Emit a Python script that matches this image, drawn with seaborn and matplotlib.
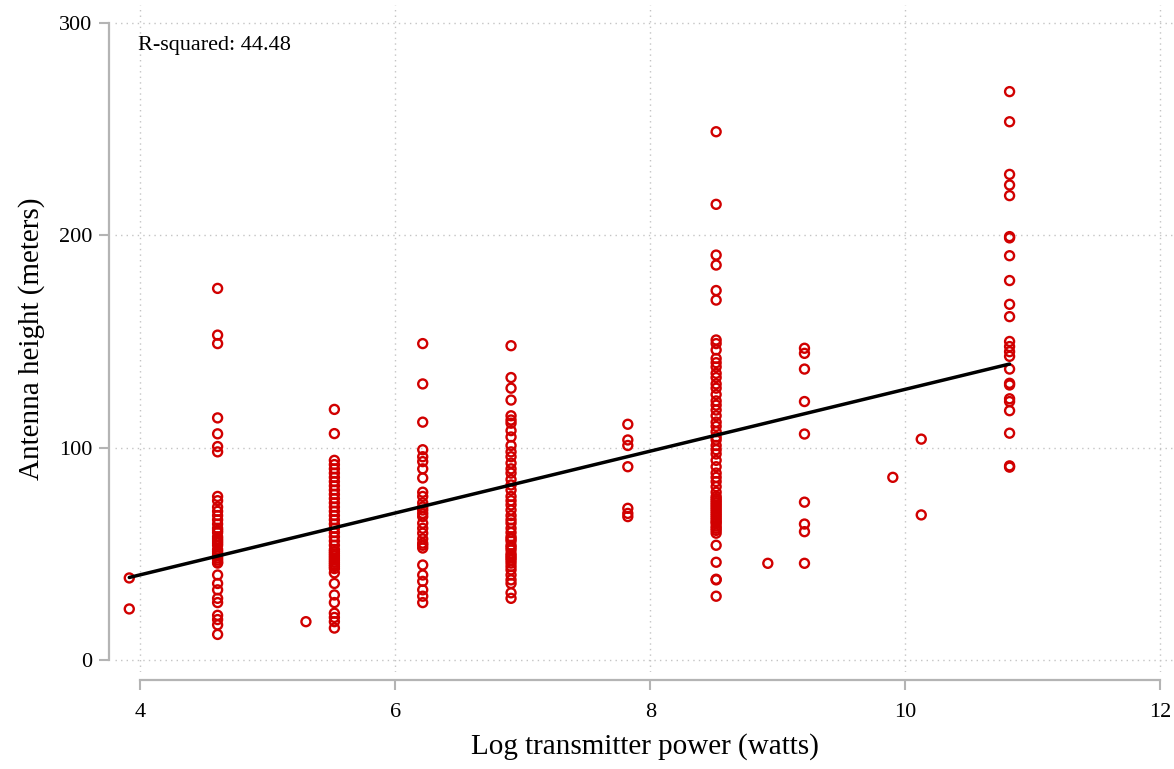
import numpy as np
import pandas as pd
import matplotlib
matplotlib.use('Agg')
import matplotlib.pyplot as plt
import seaborn as sns

# antenna heights (meters) grouped by transmitter power (watts)
watts = [50, 100, 200, 250, 500, 1000, 2500, 5000, 7500, 10000, 20000, 25000, 50000]

h_50 = [38.6, 24.0]
h_100 = [175, 153, 149, 114, 106.5, 100.5, 98, 77, 75, 72, 70, 68, 66, 64, 62, 61, 60,
         58, 57, 56, 55, 54, 52, 51, 50, 49, 48, 47, 46, 45.6, 40, 36, 33, 29, 27, 21,
         19, 16.5, 12]
h_200 = [18]
h_250 = [118, 106.6, 94, 92, 90, 88, 86, 84, 82, 80, 78, 76, 74, 72, 70, 68, 66, 64,
         62, 60, 58, 56, 54, 52, 51, 50, 49, 48, 47, 46, 45, 44, 43, 41, 36, 30.6, 27,
         22, 20, 18, 15]
h_500 = [149, 130, 112, 99, 95.7, 93.4, 90, 85.7, 79, 77, 74, 72, 70.6, 69, 67.5, 64.4,
         62, 59.7, 57, 55, 54, 52.7, 44.7, 40, 37, 33, 30, 27]
h_1000 = [148, 133, 128, 122.4, 115, 113, 111.5, 108, 105, 101, 98, 95.7, 92.7, 90, 88,
          85, 82.4, 80, 77, 75, 73, 70.6, 68, 66, 64.4, 62, 60, 58, 57, 56, 54, 53,
          51.8, 50, 49, 48, 47, 45.6, 44, 42.4, 40, 37.7, 36, 31.6, 29]
h_2500 = [111, 103.6, 101, 91, 71.4, 69, 67.5]
h_5000 = [248.8, 214.6, 190.7, 186, 174, 169.5, 150.7, 149, 146, 142, 140, 138, 135, 133,
          130, 128, 125, 122, 120, 117.7, 115, 112, 110, 107.5, 105, 103.6, 101, 99, 97,
          94, 91, 88, 86, 84, 81.6, 79, 77, 76, 75, 74, 73, 72, 71, 70, 69, 68, 67, 66,
          65, 64.4, 63, 62, 61, 59.7, 54, 46, 38, 37.7, 30]
h_7500 = [45.5]
h_10000 = [146.8, 144.4, 137, 121.7, 106.4, 74.3, 64, 60.4, 45.5]
h_20000 = [86]
h_25000 = [104, 68.3]
h_50000 = [267.7, 253.5, 228.7, 223.7, 218.7, 199.4, 198.8, 190.4, 178.7, 167.5, 161.7,
           150, 147.6, 145.2, 143, 137, 130.3, 129.5, 123, 121.7, 117.4, 106.8, 91.4, 90.8]

groups = [h_50, h_100, h_200, h_250, h_500, h_1000, h_2500, h_5000, h_7500,
          h_10000, h_20000, h_25000, h_50000]

rows = []
for w, hs in zip(watts, groups):
    for h in hs:
        rows.append((np.log(w), h))
df = pd.DataFrame(rows, columns=['logpower', 'height'])

sns.set_style('white')
plt.rcParams['font.family'] = ['Liberation Serif', 'DejaVu Serif']
plt.rcParams['text.color'] = 'black'
plt.rcParams['axes.labelcolor'] = 'black'

fig = plt.figure(figsize=(11.74, 7.69), dpi=100)
ax = fig.add_axes([115 / 1174, 97 / 769, 1059 / 1174, 667 / 769])

red = '#d10000'
gray = '#b4b4b4'

sns.regplot(data=df, x='logpower', y='height', ax=ax, ci=None,
            scatter_kws={'facecolors': 'none', 'color': red, 's': 42,
                         'linewidths': 1.7, 'alpha': 1},
            line_kws={'color': 'black', 'linewidth': 2.5})

ax.set_xlim(3.80, 12.11)
ax.set_ylim(-5.7, 308.5)
ax.set_xticks([4, 6, 8, 10, 12])
ax.set_yticks([0, 100, 200, 300])
ax.grid(True, linestyle=(0, (1, 3)), color='#c4c4c4', linewidth=1)

sns.despine(ax=ax)
ax.spines['left'].set_position(('outward', 4.5))
ax.spines['bottom'].set_position(('outward', 6))
ax.spines['left'].set_bounds(0, 300)
ax.spines['bottom'].set_bounds(4, 12)
for s in ['left', 'bottom']:
    ax.spines[s].set_color(gray)
    ax.spines[s].set_linewidth(1.6)

ax.tick_params(axis='both', direction='out', length=7, width=1.5, color=gray,
               labelcolor='black', labelsize=16, bottom=True, left=True)
ax.tick_params(axis='y', pad=5)
ax.tick_params(axis='x', pad=9)

ax.set_xlabel('Log transmitter power (watts)', fontsize=21, labelpad=8)
ax.set_ylabel('Antenna height (meters)', fontsize=21, labelpad=10)

ax.text(3.98, 294, 'R-squared: 44.48', fontsize=16, ha='left', va='top', color='black')

fig.savefig('out.png', dpi=100)
